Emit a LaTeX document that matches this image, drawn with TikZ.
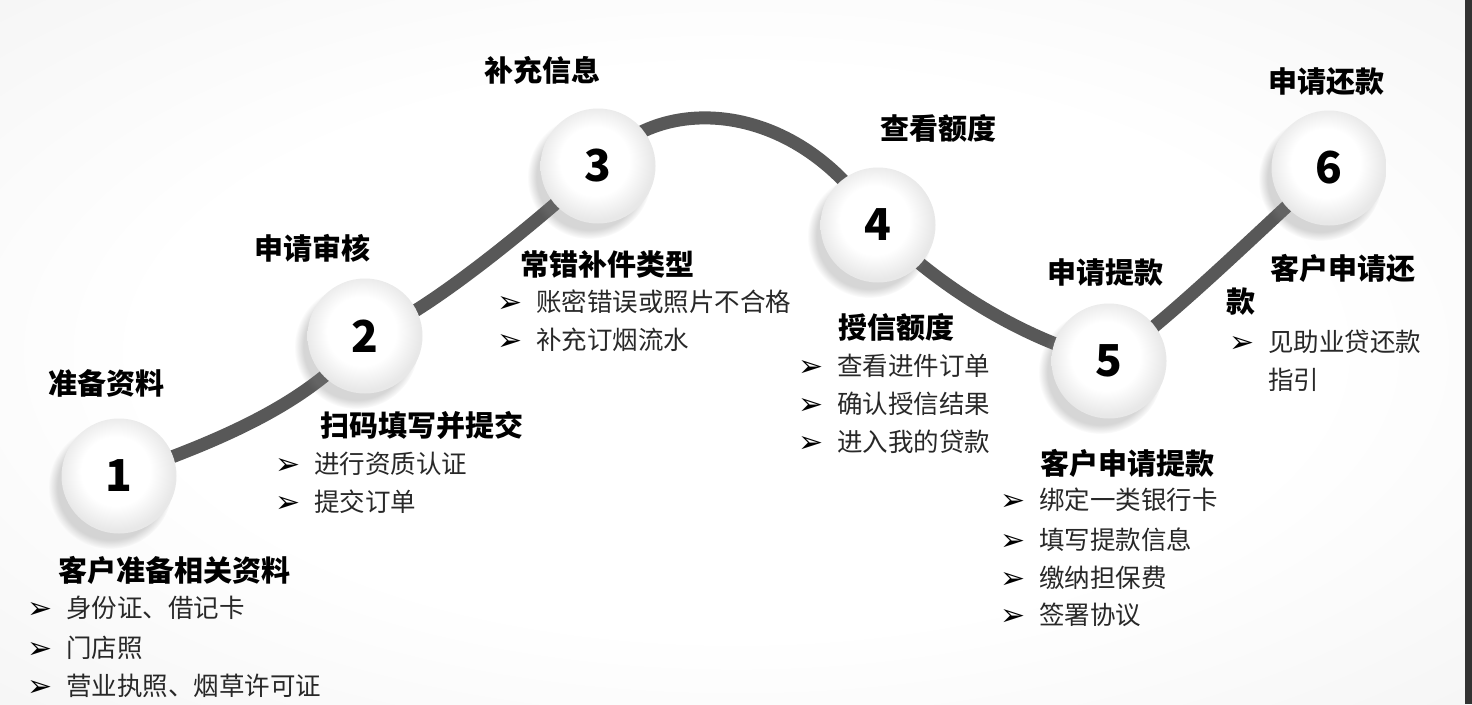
\documentclass[tikz,border=0pt]{standalone}
\usepackage{fontspec}
\setmainfont{Noto Sans CJK SC}
\newfontfamily\dejavu{DejaVu Sans}
\usetikzlibrary{shadows}
\pgfdeclarelayer{back}
\pgfdeclarelayer{mid}
\pgfsetlayers{back,mid,main}
\definecolor{linec}{RGB}{88,88,88}
\definecolor{itemc}{RGB}{40,40,40}
\pgfdeclareradialshading{bgshade}{\pgfpoint{0bp}{0bp}}{color(0bp)=(white);color(20bp)=(white);color(50bp)=(black!7);color(72bp)=(black!10)}
\pgfdeclareradialshading{ballshade}{\pgfpoint{-2bp}{3bp}}{color(0bp)=(white);color(15bp)=(white);color(25bp)=(black!9);color(50bp)=(black!9)}
\newcommand\bul{\makebox[39pt][l]{\raisebox{-1pt}{\color{black}\dejavu\fontsize{30}{30}\selectfont ➢}}}
\begin{document}
\begin{tikzpicture}[x=1pt,y=-1pt,
  stepc/.style={circle, minimum size=115pt, inner sep=0pt, shade, shading=ballshade,
    circular drop shadow={shadow xshift=-8pt, shadow yshift=-10pt, shadow scale=1.08, opacity=0.32},
    font=\bfseries\fontsize{44}{44}\selectfont},
  head/.style={anchor=west, inner sep=0pt, font=\bfseries\fontsize{29}{34}\selectfont},
  itm/.style={anchor=west, inner sep=0pt, font=\fontsize{25.5}{30}\selectfont, text=itemc},
  curve/.style={line width=13pt, draw=linec}]
\useasboundingbox (0,0) rectangle (1472,704);
\begin{pgfonlayer}{back}
  \shade[shading=bgshade] (0,0) rectangle (1472,704);
  \fill[black!80] (1465,0) rectangle (1472,704);
\end{pgfonlayer}

% step circles
\node[stepc] (n1) at (119,476) {1};
\node[stepc] (n2) at (365,336) {2};
\node[stepc] (n3) at (598,166) {3};
\node[stepc] (n4) at (878,225) {4};
\node[stepc] (n5) at (1109,361) {5};
\node[stepc] (n6) at (1329,168) {6};

% connecting curve
\begin{pgfonlayer}{mid}
  \draw[curve] (n1.center) .. controls (239,435) and (316,396) .. (n2.center)
    .. controls (420,320) and (545,215) .. (n3.center)
    .. controls (660,90) and (800,100) .. (n4.center)
    .. controls (930,280) and (1020,340) .. (n5.center)
    .. controls (1170,320) and (1270,220) .. (n6.center);
\end{pgfonlayer}

% step 1
\node[head] (h1) at (48,383) {准备资料};
\node[head] (t1) at (58,570) {客户准备相关资料};
\node[itm] (i11) at (27,608) {\bul 身份证、借记卡};
\node[itm] (i12) at (27,648) {\bul 门店照};
\node[itm] (i13) at (27,686) {\bul 营业执照、烟草许可证};

% step 2
\node[head] (h2) at (254,248) {申请审核};
\node[head] (t2) at (320,425) {扫码填写并提交};
\node[itm] (i21) at (275,464) {\bul 进行资质认证};
\node[itm] (i22) at (275,502) {\bul 提交订单};

% step 3
\node[head] (h3) at (484,70) {补充信息};
\node[head] (t3) at (520,264) {常错补件类型};
\node[itm] (i31) at (497,302) {\bul 账密错误或照片不合格};
\node[itm] (i32) at (497,340) {\bul 补充订烟流水};

% step 4
\node[head] (h4) at (880,128) {查看额度};
\node[head] (t4) at (838,327) {授信额度};
\node[itm] (i41) at (798,366) {\bul 查看进件订单};
\node[itm] (i42) at (798,404) {\bul 确认授信结果};
\node[itm] (i43) at (798,442) {\bul 进入我的贷款};

% step 5
\node[head] (h5) at (1047,273) {申请提款};
\node[head] (t5) at (1040,463) {客户申请提款};
\node[itm] (i51) at (1000,500) {\bul 绑定一类银行卡};
\node[itm] (i52) at (1000,540) {\bul 填写提款信息};
\node[itm] (i53) at (1000,578) {\bul 缴纳担保费};
\node[itm] (i54) at (1000,615) {\bul 签署协议};

% step 6
\node[head] (h6) at (1268,82) {申请还款};
\node[head] (t6a) at (1270,268) {客户申请还};
\node[head] (t6b) at (1226,302) {款};
\node[itm] (i61) at (1229,342) {\bul 见助业贷还款};
\node[itm] (i62) at (1268,380) {指引};
\end{tikzpicture}
\end{document}
